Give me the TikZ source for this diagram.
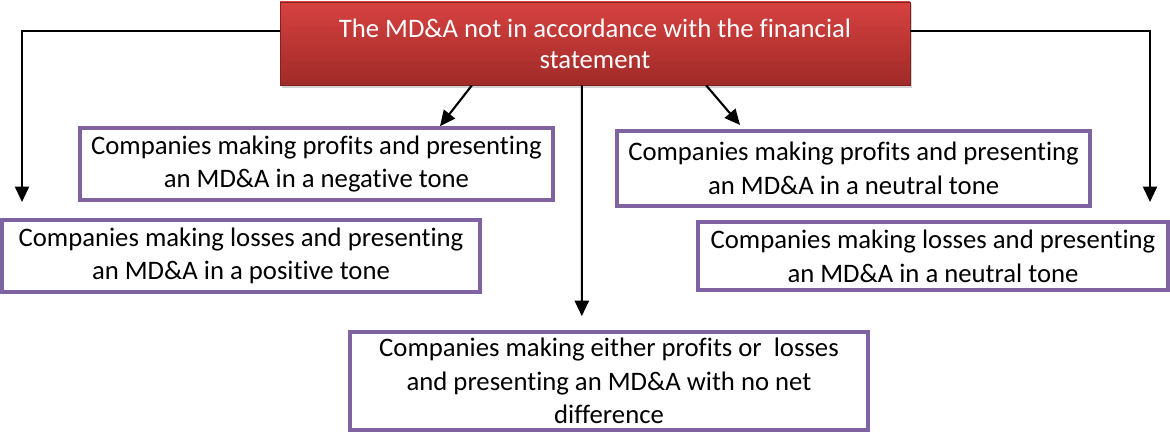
\documentclass[tikz,border=0pt]{standalone}
\usepackage{fontspec}
\setmainfont{Carlito}[Ligatures=NoCommon]
\usepackage{tikz}
\usetikzlibrary{arrows.meta,positioning,calc,shadows}
\definecolor{boxpurple}{RGB}{128,100,162}
\definecolor{redtop}{RGB}{214,66,64}
\definecolor{redbot}{RGB}{160,42,40}

\begin{document}
\begin{tikzpicture}[
    case/.style={rectangle, draw=boxpurple, line width=2.6pt, fill=white, align=center, inner sep=2pt, font=\fontsize{19}{24}\selectfont},
    head/.style={rectangle, draw=redbot!80!black, line width=0.4pt, top color=redtop, bottom color=redbot, text=white, align=center, font=\fontsize{19}{22}\selectfont, drop shadow={opacity=0.35, shadow xshift=0.06cm, shadow yshift=-0.06cm}},
    arrow/.style={-{Triangle[length=11pt,width=10pt]}, line width=1.5pt}
]
    \useasboundingbox (0,0) rectangle (29.25,10.8);

    % Titre
    \node[head, minimum width=15.75cm, minimum height=2.08cm] (top) at (14.875, 9.71)
        {The MD\&A not in accordance with the financial\\statement};

    % Cas
    \node[case, minimum width=11.83cm, minimum height=1.8cm] (profneg) at (7.91, 6.7)
        {Companies making profits and presenting\\an MD\&A in a negative tone};
    \node[case, minimum width=11.95cm, minimum height=1.8cm] (losspos) at (6.025, 4.4)
        {Companies making losses and presenting\\an MD\&A in a positive tone};
    \node[case, minimum width=11.83cm, minimum height=1.88cm] (profneu) at (21.34, 6.59)
        {Companies making profits and presenting\\an MD\&A in a neutral tone};
    \node[case, minimum width=11.75cm, minimum height=1.7cm] (lossneu) at (23.325, 4.4)
        {Companies making losses and presenting\\an MD\&A in a neutral tone};
    \node[case, minimum width=12.95cm, minimum height=2.45cm] (nodiff) at (15.225, 1.275)
        {Companies making either profits or\ \ losses\\and presenting an MD\&A with no net\\difference};

    % Extrémités libres
    \coordinate (lend) at (0.55, 5.75);
    \coordinate (rend) at (28.75, 5.75);

    % Flèches
    \draw[arrow] ([yshift=0.32cm]top.west) -| (lend);
    \draw[arrow] ([yshift=0.32cm]top.east) -| (rend);
    \draw[arrow] ($(top.south)+(-3.08,0)$) -- ($(profneg.north)+(3.09,0)$);
    \draw[arrow] ($(top.south)+(2.78,0)$) -- ($(profneu.north)+(-2.84,0.1)$);
    \draw[arrow] ($(top.south)+(-0.33,0)$) -- ($(nodiff.north)+(-0.68,0.35)$);
\end{tikzpicture}
\end{document}
